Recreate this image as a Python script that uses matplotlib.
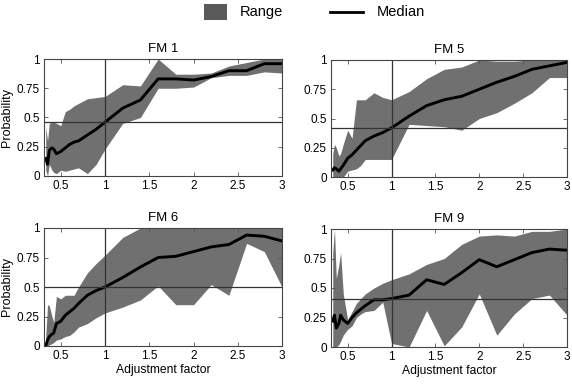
import matplotlib
matplotlib.use("Agg")
import matplotlib.pyplot as plt
import numpy as np
from matplotlib.patches import Rectangle
from matplotlib.lines import Line2D
from matplotlib.ticker import FuncFormatter

plt.rcParams['font.family'] = ['Liberation Sans', 'DejaVu Sans']

x = [0.33, 0.35, 0.37, 0.4, 0.42, 0.45, 0.5, 0.55, 0.6, 0.65, 0.7, 0.8, 0.9,
     1.0, 1.2, 1.4, 1.6, 1.8, 2.0, 2.2, 2.4, 2.6, 2.8, 3.0]

titles = ["FM 1", "FM 5", "FM 6", "FM 9"]
ref_levels = [0.46, 0.42, 0.50, 0.41]
legend_labels = ["Range", "Median"]

fm1_med = [0.15, 0.10, 0.22, 0.24, 0.23, 0.19, 0.21, 0.24, 0.27, 0.29, 0.30, 0.35, 0.40,
           0.46, 0.58, 0.65, 0.83, 0.83, 0.82, 0.85, 0.90, 0.90, 0.96, 0.96]
fm1_hi = [0.42, 0.30, 0.45, 0.46, 0.46, 0.45, 0.43, 0.55, 0.57, 0.60, 0.62, 0.66, 0.67,
          0.68, 0.78, 0.77, 1.00, 0.87, 0.87, 0.88, 0.94, 0.97, 1.00, 1.00]
fm1_lo = [0.05, 0.00, 0.10, 0.05, 0.03, 0.02, 0.05, 0.04, 0.05, 0.06, 0.07, 0.02, 0.10,
          0.23, 0.45, 0.50, 0.75, 0.75, 0.76, 0.84, 0.86, 0.86, 0.89, 0.88]

fm5_med = [0.06, 0.08, 0.07, 0.05, 0.07, 0.10, 0.16, 0.19, 0.23, 0.27, 0.31, 0.35, 0.38,
           0.42, 0.52, 0.61, 0.66, 0.69, 0.75, 0.81, 0.86, 0.92, 0.95, 0.98]
fm5_hi = [0.20, 0.28, 0.25, 0.18, 0.20, 0.28, 0.40, 0.33, 0.66, 0.66, 0.66, 0.72, 0.68,
          0.66, 0.73, 0.84, 0.92, 0.94, 1.00, 0.99, 0.99, 1.00, 1.00, 1.00]
fm5_lo = [0.00, 0.00, 0.00, 0.00, 0.00, 0.00, 0.05, 0.06, 0.07, 0.10, 0.15, 0.15, 0.15,
          0.15, 0.45, 0.44, 0.43, 0.40, 0.50, 0.55, 0.63, 0.72, 0.85, 0.85]

fm6_med = [0.00, 0.05, 0.08, 0.10, 0.11, 0.19, 0.21, 0.26, 0.29, 0.32, 0.36, 0.43, 0.47,
           0.50, 0.58, 0.67, 0.75, 0.76, 0.80, 0.84, 0.86, 0.94, 0.93, 0.89]
fm6_hi = [0.08, 0.35, 0.34, 0.25, 0.20, 0.42, 0.40, 0.43, 0.43, 0.43, 0.50, 0.62, 0.70,
          0.77, 0.92, 1.00, 1.00, 1.00, 1.00, 1.00, 1.00, 1.00, 1.00, 1.00]
fm6_lo = [0.00, 0.00, 0.01, 0.02, 0.03, 0.05, 0.06, 0.08, 0.09, 0.12, 0.16, 0.19, 0.24,
          0.28, 0.33, 0.39, 0.51, 0.35, 0.35, 0.52, 0.43, 0.87, 0.80, 0.50]

fm9_med = [0.22, 0.27, 0.16, 0.20, 0.27, 0.23, 0.20, 0.25, 0.29, 0.32, 0.35, 0.40, 0.40,
           0.41, 0.44, 0.57, 0.53, 0.63, 0.74, 0.68, 0.74, 0.80, 0.83, 0.82]
fm9_hi = [0.80, 1.00, 0.58, 0.70, 0.80, 0.45, 0.23, 0.30, 0.37, 0.41, 0.45, 0.50, 0.54,
          0.57, 0.62, 0.70, 0.75, 0.87, 0.94, 0.95, 0.94, 0.98, 0.98, 1.00]
fm9_lo = [0.00, 0.00, 0.00, 0.02, 0.05, 0.10, 0.15, 0.18, 0.25, 0.28, 0.30, 0.31, 0.38,
          0.03, 0.00, 0.31, 0.01, 0.17, 0.45, 0.10, 0.28, 0.41, 0.44, 0.27]

meds = [fm1_med, fm5_med, fm6_med, fm9_med]
his = [fm1_hi, fm5_hi, fm6_hi, fm9_hi]
los = [fm1_lo, fm5_lo, fm6_lo, fm9_lo]

fill_color = '#707070'

fig = plt.figure(figsize=(5.72, 3.84), dpi=100)
rects = [
    [44/572, 1-176/384, 238/572, 117/384],
    [331/572, 1-177/384, 236/572, 117/384],
    [44/572, 1-346/384, 238/572, 118/384],
    [331/572, 1-347/384, 236/572, 118/384],
]

def fmt(v, pos):
    return '%g' % round(v, 2)

for i in range(4):
    ax = fig.add_axes(rects[i])
    ax.fill_between(x, los[i], his[i], color=fill_color, linewidth=0)
    ax.plot(x, meds[i], color='black', linewidth=2.1)
    ax.axhline(ref_levels[i], color='#333333', linewidth=0.9)
    ax.axvline(1.0, color='#333333', linewidth=0.9)
    ax.set_xlim(0.31, 3.0)
    ax.set_ylim(0, 1)
    ax.set_xticks([0.5, 1, 1.5, 2, 2.5, 3])
    ax.set_yticks([0, 0.25, 0.5, 0.75, 1])
    ax.xaxis.set_major_formatter(FuncFormatter(fmt))
    ax.yaxis.set_major_formatter(FuncFormatter(fmt))
    ax.tick_params(direction='in', top=True, right=True, length=3, width=0.6,
                   labelsize=8.5, pad=3, color='#555555')
    for s in ax.spines.values():
        s.set_linewidth(0.8)
        s.set_color('#444444')
    ax.set_title(titles[i], fontsize=9.5, pad=5)
    if i in (0, 2):
        ax.set_ylabel('Probability', fontsize=9, labelpad=3)
    if i in (2, 3):
        ax.set_xlabel('Adjustment factor', fontsize=8.7, labelpad=1)

# Legend drawn in figure coordinates
fig.add_artist(Rectangle((204/572, 1-20/384), 23/572, 16/384, transform=fig.transFigure,
                         facecolor='#5a5a5a', edgecolor='none'))
fig.text(240/572, 1-12/384, legend_labels[0], fontsize=10.5, va='center', ha='left')
fig.add_artist(Line2D([330/572, 363/572], [1-12/384, 1-12/384], transform=fig.transFigure,
                      color='black', linewidth=2))
fig.text(377/572, 1-12/384, legend_labels[1], fontsize=10.5, va='center', ha='left')

fig.savefig('out.png', dpi=100)
